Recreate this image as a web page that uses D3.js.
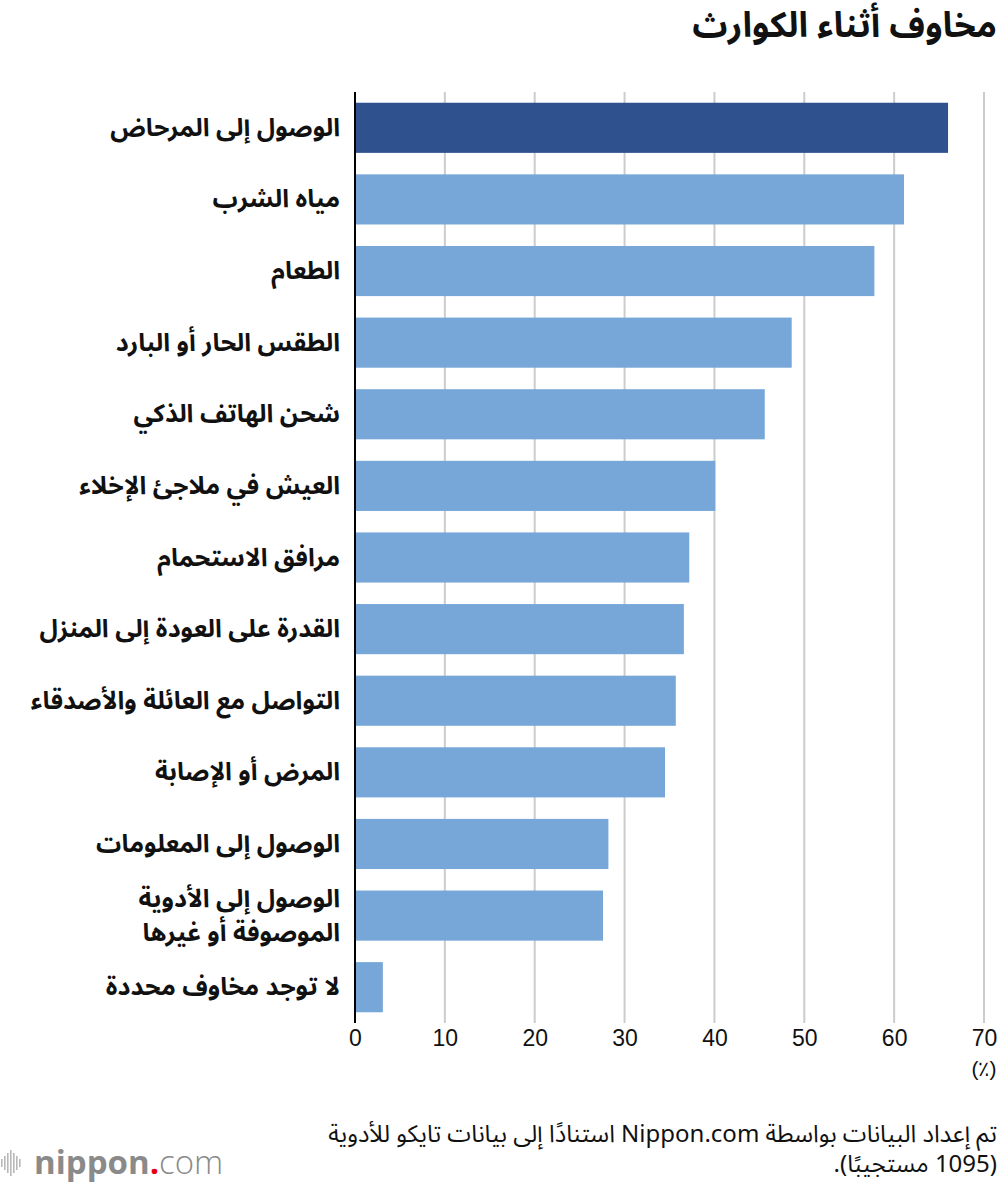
<!DOCTYPE html>
<html><head><meta charset="utf-8">
<script src="https://cdn.jsdelivr.net/npm/d3@7"></script>
<style>
html,body{margin:0;padding:0;background:#fff;}
svg{display:block;}
</style></head>
<body>
<svg id="chart" width="1000" height="1186"></svg>
<script>
const categories = [
  "الوصول إلى المرحاض",
  "مياه الشرب",
  "الطعام",
  "الطقس الحار أو البارد",
  "شحن الهاتف الذكي",
  "العيش في ملاجئ الإخلاء",
  "مرافق الاستحمام",
  "القدرة على العودة إلى المنزل",
  "التواصل مع العائلة والأصدقاء",
  "المرض أو الإصابة",
  "الوصول إلى المعلومات",
  "الوصول إلى الأدوية\nالموصوفة أو غيرها",
  "لا توجد مخاوف محددة"
];
const values = [66.0, 61.1, 57.8, 48.6, 45.6, 40.1, 37.2, 36.6, 35.7, 34.5, 28.2, 27.6, 3.1];
const xTicks = [0, 10, 20, 30, 40, 50, 60, 70];
const title = "مخاوف أثناء الكوارث";
const unitLabel = "(٪)";
const sourceLines = [
  "تم إعداد البيانات بواسطة Nippon.com استنادًا إلى بيانات تايكو للأدوية",
  "(1095 مستجيبًا)."
];

const arabicFont = "'Noto Sans Arabic','DejaVu Sans','Noto Sans',sans-serif";
const svg = d3.select("#chart");

const x = d3.scaleLinear().domain([0, 70]).range([355, 984]);
const y = d3.scaleBand().domain(categories).range([92, 1023]).paddingInner(0.3).paddingOuter(0.15);

// gridlines
svg.append("g").selectAll("line").data(xTicks.filter(d => d > 0)).join("line")
  .attr("x1", d => x(d)).attr("x2", d => x(d))
  .attr("y1", 92).attr("y2", 1023)
  .attr("stroke", "#cccccc").attr("stroke-width", 2);

// bars
svg.append("g").selectAll("rect").data(values).join("rect")
  .attr("x", x(0))
  .attr("y", (d, i) => y(categories[i]))
  .attr("width", d => x(d) - x(0))
  .attr("height", y.bandwidth())
  .attr("fill", (d, i) => i === 0 ? "#2f528f" : "#76a7d8");

// y axis line
svg.append("line").attr("x1", x(0)).attr("x2", x(0)).attr("y1", 92).attr("y2", 1023)
  .attr("stroke", "#000").attr("stroke-width", 2);

// x axis tick labels
const xAxis = d3.axisBottom(x).tickValues(xTicks).tickSize(0).tickPadding(0).tickFormat(d3.format("d"));
const gx = svg.append("g").attr("transform", "translate(0,1030)").call(xAxis);
gx.select(".domain").remove();
gx.selectAll("text").attr("font-family", "'Liberation Sans',Arial,sans-serif")
  .attr("font-size", 23).attr("fill", "#111").attr("dy", "0.71em");

svg.append("text").attr("x", x(70)).attr("y", 1076).attr("text-anchor", "middle")
  .attr("font-family", "'Liberation Sans',Arial,sans-serif").attr("font-size", 21).attr("fill", "#111")
  .text(unitLabel);

// category labels
const lg = svg.append("g");
categories.forEach((c, i) => {
  const lines = c.split("\n");
  const cy = y(c) + y.bandwidth() / 2;
  const lh = 34;
  const t = lg.append("text")
    .attr("x", 340).attr("y", cy - (lines.length - 1) * lh / 2)
    .attr("text-anchor", "start").attr("direction", "rtl")
    .attr("dominant-baseline", "central")
    .attr("font-family", arabicFont).attr("font-weight", "bold")
    .attr("font-size", 25).attr("fill", "#111");
  lines.forEach((l, j) => {
    t.append("tspan").attr("x", 340).attr("dy", j === 0 ? 0 : lh).text(l);
  });
});

// title
svg.append("text").attr("x", 997).attr("y", 37).attr("text-anchor", "start").attr("direction", "rtl")
  .attr("font-family", arabicFont).attr("font-weight", "bold").attr("font-size", 35).attr("fill", "#111")
  .text(title);

// source
sourceLines.forEach((s, i) => {
  svg.append("text").attr("x", 997).attr("y", 1142 + i * 30).attr("text-anchor", "start").attr("direction", "rtl")
    .attr("font-family", arabicFont).attr("font-size", 24).attr("fill", "#111")
    .text(s);
});

// logo
const logo = svg.append("g").attr("transform", "translate(0,1163)");
[[1,8],[4,14],[7,20],[10,26],[13,20],[16,14],[19,8]].forEach(([dx, h]) => {
  logo.append("rect").attr("x", dx).attr("y", -h / 2).attr("width", 1.6).attr("height", h).attr("fill", "#b8b8b8");
});
const lt = logo.append("text").attr("x", 34).attr("y", 11)
  .attr("font-family", "'Open Sans','Noto Sans',sans-serif").attr("font-size", 33).attr("fill", "#8a8a8a");
lt.append("tspan").attr("font-weight", "bold").text("nippon");
lt.append("tspan").attr("font-weight", "bold").attr("fill", "#e60012").text(".");
lt.append("tspan").attr("font-weight", "300").text("com");
</script>
</body></html>
